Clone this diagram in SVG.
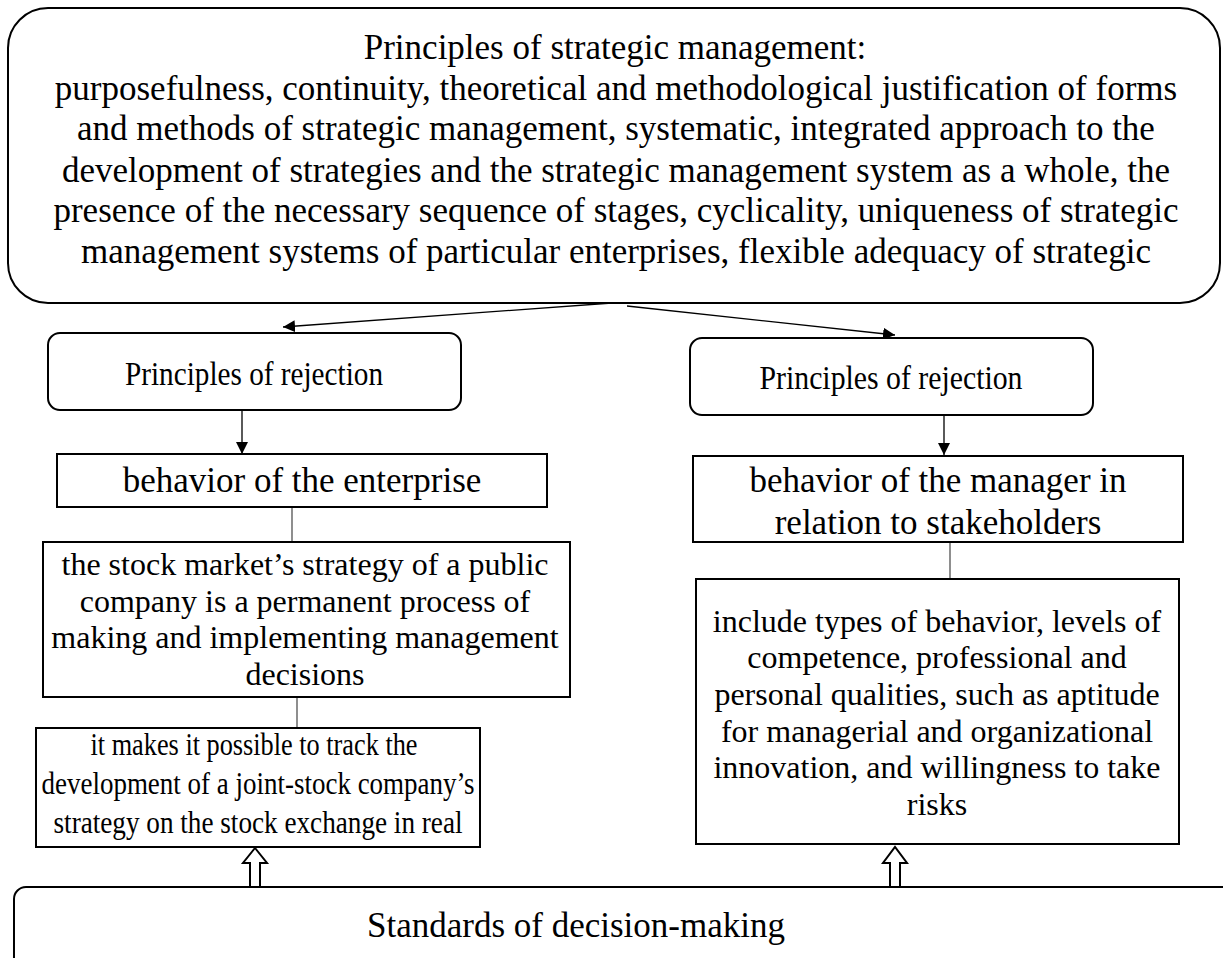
<svg xmlns="http://www.w3.org/2000/svg" width="1223" height="958" viewBox="0 0 1223 958">
<defs>
<style>
.box{fill:#fff;stroke:#000;stroke-width:2}
.t{font-family:"Liberation Serif","Times New Roman",serif;fill:#000;text-anchor:middle}
.arr{stroke:#000;stroke-width:1.3;fill:none}
.lnk{stroke:#444;stroke-width:1.2;fill:none}
.hol{fill:#fff;stroke:#000;stroke-width:2;stroke-linejoin:miter}
</style>
<marker id="ah" viewBox="0 0 12 12" refX="12" refY="6" markerWidth="12" markerHeight="12" markerUnits="userSpaceOnUse" orient="auto">
<path d="M0,0 L12,6 L0,12 Z" fill="#000"/>
</marker>
</defs>
<rect width="1223" height="958" fill="#fff"/>

<g id="connectors">
<line class="arr" x1="612" y1="303" x2="283" y2="327" marker-end="url(#ah)"/>
<line class="arr" x1="627" y1="306" x2="895" y2="335" marker-end="url(#ah)"/>
<line class="arr" x1="242" y1="411" x2="242" y2="454" marker-end="url(#ah)"/>
<line class="arr" x1="944" y1="416" x2="944" y2="455" marker-end="url(#ah)"/>
<line class="lnk" x1="292" y1="508" x2="292" y2="542"/>
<line class="lnk" x1="297" y1="698" x2="297" y2="728"/>
<line class="lnk" x1="950" y1="543" x2="950" y2="579"/>
<path class="hol" d="M250,887 L250,863 L243,863 L255,848 L267,863 L260,863 L260,887"/>
<path class="hol" d="M890,886 L890,863 L883,863 L895,847 L907,863 L900,863 L900,886"/>
</g>

<g id="top">
<rect class="box" x="8" y="8" width="1212" height="295" rx="40"/>
<g class="t" font-size="35">
<text x="615" y="59">Principles of strategic management:</text>
<text x="616" y="100">purposefulness, continuity, theoretical and methodological justification of forms</text>
<text x="616" y="140">and methods of strategic management, systematic, integrated approach to the</text>
<text x="616" y="182">development of strategies and the strategic management system as a whole, the</text>
<text x="616" y="222">presence of the necessary sequence of stages, cyclicality, uniqueness of strategic</text>
<text x="616" y="263">management systems of particular enterprises, flexible adequacy of strategic</text>
</g>
</g>

<g id="rej-left">
<rect class="box" x="48" y="333" width="413" height="77" rx="12"/>
<text class="t" font-size="34" x="254" y="385" textLength="258" lengthAdjust="spacingAndGlyphs">Principles of rejection</text>
</g>

<g id="rej-right">
<rect class="box" x="690" y="338" width="403" height="77" rx="12"/>
<text class="t" font-size="34" x="891" y="389" textLength="263" lengthAdjust="spacingAndGlyphs">Principles of rejection</text>
</g>

<g id="beh-ent">
<rect class="box" x="57" y="454" width="490" height="53"/>
<text class="t" font-size="35" x="302" y="492">behavior of the enterprise</text>
</g>

<g id="stock">
<rect class="box" x="43" y="542" width="527" height="155"/>
<g class="t" font-size="32">
<text x="305" y="575">the stock market’s strategy of a public</text>
<text x="305" y="612">company is a permanent process of</text>
<text x="305" y="648">making and implementing management</text>
<text x="305" y="685">decisions</text>
</g>
</g>

<g id="track">
<rect class="box" x="36" y="728" width="444" height="119"/>
<g class="t" font-size="31">
<text x="254" y="755" textLength="327" lengthAdjust="spacingAndGlyphs">it makes it possible to track the</text>
<text x="258" y="794" textLength="433" lengthAdjust="spacingAndGlyphs">development of a joint-stock company’s</text>
<text x="258" y="833" textLength="409" lengthAdjust="spacingAndGlyphs">strategy on the stock exchange in real</text>
</g>
</g>

<g id="beh-man">
<rect class="box" x="693" y="456" width="490" height="86"/>
<g class="t" font-size="35">
<text x="938" y="492">behavior of the manager in</text>
<text x="938" y="534">relation to stakeholders</text>
</g>
</g>

<g id="include">
<rect class="box" x="696" y="579" width="483" height="265"/>
<g class="t" font-size="32">
<text x="937" y="632">include types of behavior, levels of</text>
<text x="937" y="668">competence, professional and</text>
<text x="937" y="705">personal qualities, such as aptitude</text>
<text x="937" y="742">for managerial and organizational</text>
<text x="937" y="778">innovation, and willingness to take</text>
<text x="937" y="815">risks</text>
</g>
</g>

<g id="standards">
<rect class="box" x="14" y="887" width="1240" height="120" rx="12"/>
<text class="t" font-size="35" x="576" y="937">Standards of decision-making</text>
</g>
</svg>
